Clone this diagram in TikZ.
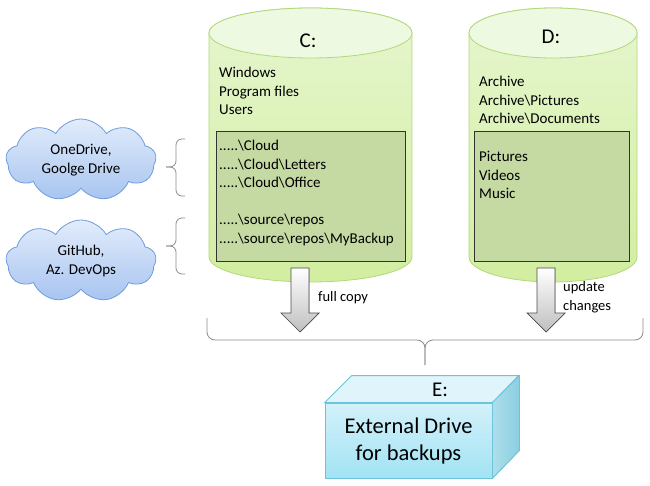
\documentclass[tikz,border=0pt]{standalone}
\usepackage{fontspec}
\setmainfont{Carlito}
\usepackage{xcolor}
\usepackage{tikz}
\usetikzlibrary{shapes.symbols}
\usetikzlibrary{positioning}

\definecolor{cyltop}{HTML}{EEF9E2}
\definecolor{cylhi}{HTML}{E6F6CF}
\definecolor{cyllo}{HTML}{D2EEA0}
\definecolor{cylline}{HTML}{B2D879}
\definecolor{boxfill}{HTML}{C5D9A2}
\definecolor{cloudhi}{HTML}{E2ECFB}
\definecolor{cloudlo}{HTML}{A7C4F0}
\definecolor{cloudline}{HTML}{6F9CDD}
\definecolor{extfront}{HTML}{D3F1FA}
\definecolor{extfrontlo}{HTML}{A2E3F4}
\definecolor{extline}{HTML}{6CC3DA}
\definecolor{braceline}{HTML}{8C8C8C}

\begin{document}
\begin{tikzpicture}[x=1pt,y=-1pt,
    every node/.style={inner sep=0pt},
    cylbody/.style={draw=cylline,line width=0.8pt,top color=cylhi,bottom color=cyllo},
    cyltop/.style={draw=cylline,line width=0.8pt,fill=cyltop},
    inbox/.style={draw=black!80,line width=0.7pt,fill=boxfill},
    title/.style={font=\fontsize{21}{24}\selectfont},
    list/.style={anchor=north west,align=left,font=\fontsize{15}{18.5}\selectfont},
    cloudy/.style={cloud,cloud puffs=9,cloud puff arc=120,aspect=1.8,draw=cloudline,line width=0.8pt,
      top color=cloudhi,bottom color=cloudlo,minimum width=150pt,minimum height=82pt,
      align=center,font=\fontsize{15}{18.5}\selectfont},
    brace/.style={draw=braceline,line width=0.8pt,rounded corners=6pt},
    blockarr/.style={draw=black!70,line width=0.7pt,top color=white,bottom color=black!25},
    note/.style={align=left,font=\fontsize{14.5}{18.5}\selectfont},
    extbox/.style={draw=extline,line width=0.8pt,top color=extfront,bottom color=extfrontlo,
      minimum width=167pt,minimum height=75pt,align=center,font=\fontsize{22.5}{27}\selectfont}]
\useasboundingbox (0,0) rectangle (650,486);

% drive C
\path[cylbody] (209,33) -- (209,257) arc (180:360:101.5pt and 25pt) -- (412,33) arc (0:180:101.5pt and 25pt) -- cycle;
\draw[cyltop] (310.5,33) ellipse (101.5pt and 25pt);
\draw[inbox] (216,131) rectangle (405,261);
\node[title] (C) at (308,41) {C:};
\node[list] (Csys) at (219,67) {Windows\\Program files\\Users};
\node[list] (Ccloud) at (219,140) {.....\textbackslash Cloud\\.....\textbackslash Cloud\textbackslash Letters\\.....\textbackslash Cloud\textbackslash Office};
\node[list] (Crepos) at (219,214) {.....\textbackslash source\textbackslash repos\\.....\textbackslash source\textbackslash repos\textbackslash MyBackup};

% drive D
\path[cylbody] (469,33) -- (469,257) arc (180:360:84pt and 25pt) -- (637,33) arc (0:180:84pt and 25pt) -- cycle;
\draw[cyltop] (553,33) ellipse (84pt and 25pt);
\draw[inbox] (474,131) rectangle (629,261);
\node[title] (D) at (551,37) {D:};
\node[list] (Darch) at (479,76) {Archive\\Archive\textbackslash Pictures\\Archive\textbackslash Documents};
\node[list] (Dmedia) at (479,151) {Pictures\\Videos\\Music};

% clouds
\node[cloudy] (OD) at (81,160) {OneDrive,\\Goolge Drive};
\node[cloudy] (GH) at (81,261) {GitHub,\\Az. DevOps};

% braces
\coordinate (b1) at (166,167);
\coordinate (b2) at (166,246);
\draw[brace] (185,139) -| (176,167) -- (b1);
\draw[brace] (185,196) -| (176,167) -- (b1);
\draw[brace] (185,218) -| (176,246) -- (b2);
\draw[brace] (185,274) -| (176,246) -- (b2);

% copy arrows
\foreach \ax in {300,546}
  \filldraw[blockarr] ({\ax-9},268) -- ({\ax+9},268) -- ({\ax+9},313) -- ({\ax+19},313)
    -- (\ax,332) -- ({\ax-19},313) -- ({\ax-9},313) -- cycle;
\node[note,anchor=west] (full) at (318,298) {full copy};
\node[note,anchor=west] (upd) at (563,297) {update\\changes};

% external drive
\node[extbox] (E) at (408.5,440.5) {External Drive\\for backups};
\filldraw[draw=extline,line width=0.8pt,fill=extfront!70!white] (E.north west) -- ++(27,-27) -- ++(167,0) -- (E.north east) -- cycle;
\filldraw[draw=extline,line width=0.8pt,left color=extline!55,right color=extline!80] (E.north east) -- ++(27,-27) -- ++(0,75) -- (E.south east) -- cycle;
\node[title] (Elabel) at (440,390) {E:};
\coordinate (Etip) at (425,365);
\draw[brace,rounded corners=8pt] (207,318) |- (425,340) -- (Etip);
\draw[brace,rounded corners=8pt] (643,318) |- (425,340) -- (Etip);
\end{tikzpicture}
\end{document}
